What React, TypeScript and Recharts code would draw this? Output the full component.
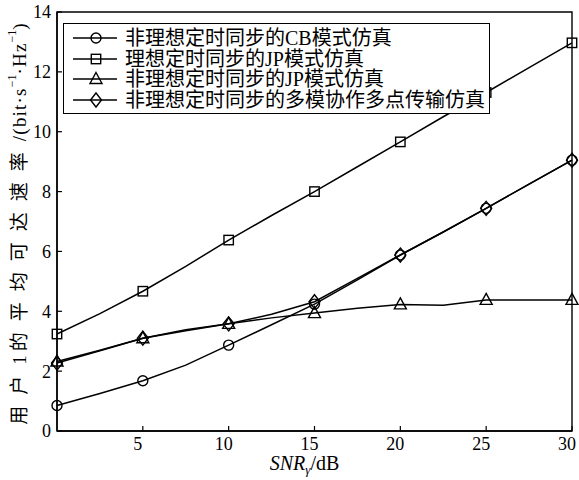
import React from "react";
import {
  LineChart,
  Line,
  XAxis,
  YAxis,
  Legend,
  ReferenceArea,
  Label,
} from "recharts";

// SNR_γ (dB) sample points, markers every 5 dB
const snr = [0, 2.5, 5, 7.5, 10, 12.5, 15, 17.5, 20, 22.5, 25, 27.5, 30];

// average achievable rate of user 1 (bit·s^-1·Hz^-1)
const cbNonIdeal = [0.85, 1.25, 1.68, 2.2, 2.87, 3.55, 4.24, 5.05, 5.88, 6.65, 7.44, 8.25, 9.05];
const jpIdeal = [3.24, 3.92, 4.67, 5.5, 6.38, 7.2, 8.0, 8.83, 9.66, 10.5, 11.31, 12.14, 12.97];
const jpNonIdeal = [2.32, 2.7, 3.1, 3.38, 3.58, 3.78, 3.94, 4.1, 4.23, 4.2, 4.38, 4.38, 4.38];
const comp = [2.27, 2.68, 3.1, 3.35, 3.58, 3.9, 4.32, 5.1, 5.88, 6.65, 7.44, 8.25, 9.05];

const xTicks = [5, 10, 15, 20, 25, 30];
const yTicks = [0, 2, 4, 6, 8, 10, 12, 14];

const seriesNames = [
  "非理想定时同步的CB模式仿真",
  "理想定时同步的JP模式仿真",
  "非理想定时同步的JP模式仿真",
  "非理想定时同步的多模协作多点传输仿真",
];

const FONT = "'Liberation Serif', 'Noto Sans CJK SC', serif";

const series = [
  { key: "cb", name: seriesNames[0], shape: "circle" },
  { key: "jpIdeal", name: seriesNames[1], shape: "square" },
  { key: "jp", name: seriesNames[2], shape: "triangle" },
  { key: "comp", name: seriesNames[3], shape: "diamond" },
];

const data = snr.map((x, i) => ({
  snr: x,
  cb: cbNonIdeal[i],
  jpIdeal: jpIdeal[i],
  jp: jpNonIdeal[i],
  comp: comp[i],
}));

function Marker({ shape, cx, cy }: { shape: string; cx: number; cy: number }) {
  const common = { stroke: "#000", strokeWidth: 1.4, fill: "none" };
  switch (shape) {
    case "circle":
      return <circle cx={cx} cy={cy} r={5} {...common} />;
    case "square":
      return <rect x={cx - 4.7} y={cy - 4.7} width={9.4} height={9.4} {...common} />;
    case "triangle":
      return (
        <polygon
          points={`${cx},${cy - 6.5} ${cx + 6},${cy + 4.5} ${cx - 6},${cy + 4.5}`}
          {...common}
        />
      );
    default:
      return (
        <polygon
          points={`${cx},${cy - 7} ${cx + 5.5},${cy} ${cx},${cy + 7} ${cx - 5.5},${cy}`}
          {...common}
        />
      );
  }
}

const makeDot = (shape: string) => (props: any) => {
  const { cx, cy, payload, index } = props;
  if (payload.snr % 5 !== 0) return <g key={`d-${shape}-${index}`} />;
  return (
    <g key={`d-${shape}-${index}`}>
      <Marker shape={shape} cx={cx} cy={cy} />
    </g>
  );
};

function LegendBox() {
  return (
    <div
      style={{
        width: 427,
        height: 91,
        boxSizing: "border-box",
        border: "1.5px solid #000",
        background: "#fff",
        paddingTop: 4,
        paddingLeft: 9,
        fontFamily: FONT,
        fontSize: 20,
        color: "#000",
      }}
    >
      {series.map((s) => (
        <div
          key={s.key}
          style={{ display: "flex", alignItems: "center", height: 20.5, lineHeight: "20.5px" }}
        >
          <svg width={46} height={20} style={{ flex: "none" }}>
            <line x1={0} y1={10} x2={44} y2={10} stroke="#000" strokeWidth={1.5} />
            <Marker shape={s.shape} cx={23} cy={10} />
          </svg>
          <span style={{ marginLeft: 6, whiteSpace: "nowrap" }}>{s.name}</span>
        </div>
      ))}
    </div>
  );
}

function XLabel({ viewBox }: any) {
  const cx = viewBox.x + viewBox.width / 2 - 10;
  return (
    <text x={cx} y={viewBox.y + 39} textAnchor="middle" fontFamily={FONT} fontSize={20} fill="#000">
      <tspan fontStyle="italic">SNR</tspan>
      <tspan fontStyle="italic" fontSize={13} dy={4}>γ</tspan>
      <tspan dy={-4}>/dB</tspan>
    </text>
  );
}

function YLabel() {
  const x = 19;
  const y = 224;
  return (
    <text
      x={x}
      y={y}
      transform={`rotate(-90, ${x}, ${y})`}
      textAnchor="middle"
      dominantBaseline="central"
      fontFamily={FONT}
      fontSize={19}
      fill="#000"
    >
      <tspan letterSpacing={11}>用户</tspan>
      <tspan letterSpacing={4}>1</tspan>
      <tspan letterSpacing={11}>的平均可达速率</tspan>
      <tspan letterSpacing={1.2}>/(bit·s</tspan>
      <tspan fontSize={12} dy={-7}>−1</tspan>
      <tspan letterSpacing={1.2} dy={7}>·Hz</tspan>
      <tspan fontSize={12} dy={-7}>−1</tspan>
      <tspan dy={7}>)</tspan>
    </text>
  );
}

export default function App() {
  const tickStyle = { fontSize: 18, fill: "#000", fontFamily: FONT };
  return (
    <div style={{ position: "absolute", left: 0, top: 0, background: "#fff" }}>
      <LineChart
        width={579}
        height={480}
        data={data}
        margin={{ top: 12, right: 7, bottom: 0, left: 0 }}
      >
        <XAxis
          dataKey="snr"
          type="number"
          domain={[0, 30]}
          ticks={xTicks}
          interval={0}
          height={49}
          tickSize={-5}
          tickMargin={11}
          tick={{ ...tickStyle, dx: -5 }}
          axisLine={{ stroke: "#000", strokeWidth: 1.4 }}
          tickLine={{ stroke: "#000", strokeWidth: 1.2 }}
        >
          <Label content={<XLabel />} />
        </XAxis>
        <YAxis
          type="number"
          domain={[0, 14]}
          ticks={yTicks}
          interval={0}
          width={57}
          tickSize={-5}
          tickMargin={11}
          tick={tickStyle}
          axisLine={{ stroke: "#000", strokeWidth: 1.4 }}
          tickLine={{ stroke: "#000", strokeWidth: 1.2 }}
        >
          <Label content={<YLabel />} />
        </YAxis>
        <ReferenceArea
          x1={0}
          x2={30}
          y1={0}
          y2={14}
          fill="none"
          fillOpacity={0}
          stroke="#000"
          strokeWidth={1.4}
        />
        {series.map((s) => (
          <Line
            key={s.key}
            type="linear"
            dataKey={s.key}
            name={s.name}
            stroke="#000"
            strokeWidth={1.5}
            dot={makeDot(s.shape)}
            activeDot={false}
            isAnimationActive={false}
          />
        ))}
        <Legend
          layout="vertical"
          align="center"
          verticalAlign="middle"
          content={() => <LegendBox />}
          wrapperStyle={{ position: "absolute", top: 23, left: 63, width: 427, height: 91 }}
        />
      </LineChart>
    </div>
  );
}
